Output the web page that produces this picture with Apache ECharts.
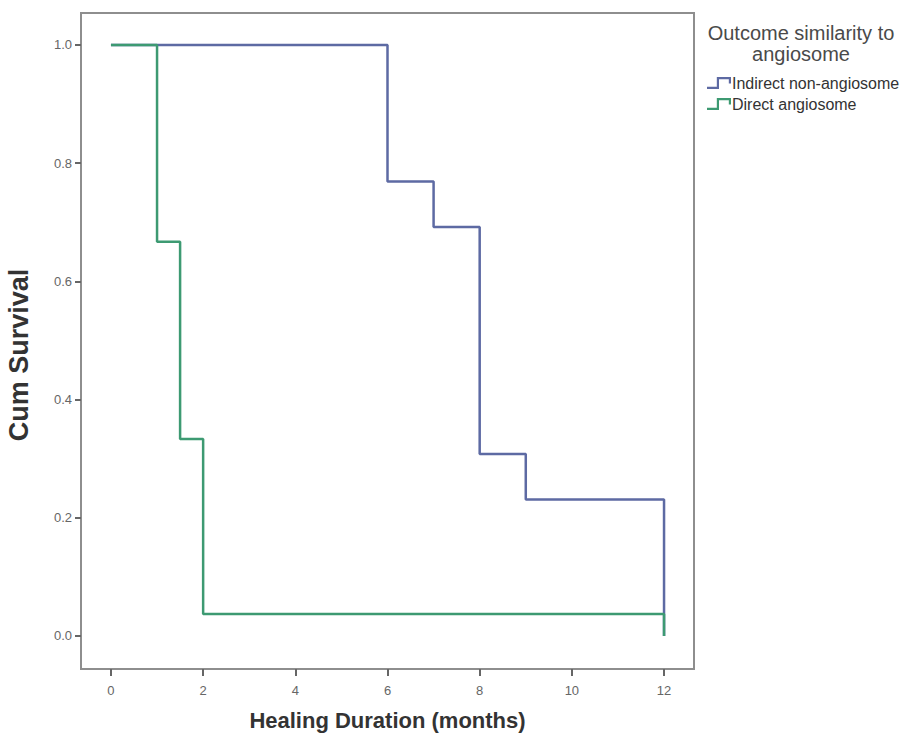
<!DOCTYPE html>
<html>
<head>
<meta charset="utf-8">
<script src="https://cdn.jsdelivr.net/npm/echarts@6/dist/echarts.min.js"></script>
<style>html,body{margin:0;padding:0;background:#fff}#c{width:901px;height:738px}</style>
</head>
<body>
<div id="c"></div>
<script>
// Kaplan-Meier step data: [months, cumulative survival]
var indirectNonAngiosome = [[0, 1.0], [6, 0.769], [7, 0.692], [8, 0.308], [9, 0.231], [12, 0.0]];
var directAngiosome = [[0, 1.0], [1, 0.667], [1.5, 0.333], [2, 0.037], [12, 0.0]];
var xTicks = [0, 2, 4, 6, 8, 10, 12];
var yTicks = [0.0, 0.2, 0.4, 0.6, 0.8, 1.0];
var seriesNames = ['Indirect non-angiosome', 'Direct angiosome'];
var legendTitle = 'Outcome similarity to\nangiosome';

var stepIcon = 'path://M0,9 L9,9 L9,0 L22,0 L22,6 L20,6 L20,2 L11,2 L11,11 L0,11 Z';
var chart = echarts.init(document.getElementById('c'), null, {renderer: 'svg'});
chart.setOption({
  animation: false,
  backgroundColor: '#fff',
  title: {
    text: legendTitle,
    left: 796, top: 17, textAlign: 'center',
    textStyle: {fontFamily: 'Liberation Sans', fontSize: 20, fontWeight: 'normal', color: '#4a4a4a', lineHeight: 21}
  },
  legend: {
    orient: 'vertical', left: 702, top: 70, itemGap: 5,
    itemWidth: 24, itemHeight: 12, symbolKeepAspect: false,
    data: [{name: seriesNames[0], icon: stepIcon}, {name: seriesNames[1], icon: stepIcon}],
    textStyle: {fontFamily: 'Liberation Sans', fontSize: 16, color: '#333', padding: [0, 0, 0, -4]}
  },
  grid: {left: 81, top: 13, right: 207, bottom: 69, show: true, borderColor: '#8e8e8e', borderWidth: 2,
    containLabel: false, outerBoundsMode: 'none'},
  xAxis: {
    type: 'value', min: -0.65, max: 12.65,
    name: 'Healing Duration (months)', nameLocation: 'middle', nameGap: 40,
    nameTextStyle: {fontFamily: 'Liberation Sans', fontSize: 22, fontWeight: 'bold', color: '#333'},
    axisLine: {show: true, onZero: false, lineStyle: {color: '#8e8e8e', width: 2}},
    axisTick: {show: true, length: 7, lineStyle: {color: '#666', width: 2}, customValues: xTicks},
    axisLabel: {customValues: xTicks, fontFamily: 'Liberation Sans', fontSize: 13, color: '#666', margin: 15},
    splitLine: {show: false}
  },
  yAxis: {
    type: 'value', min: -0.056, max: 1.054,
    name: 'Cum Survival', nameLocation: 'middle', nameGap: 49,
    nameTextStyle: {fontFamily: 'Liberation Sans', fontSize: 27, fontWeight: 'bold', color: '#333', padding: [0, 28, 0, 0]},
    axisLine: {show: true, onZero: false, lineStyle: {color: '#8e8e8e', width: 2}},
    axisTick: {show: true, length: 6, lineStyle: {color: '#666', width: 2}, customValues: yTicks},
    axisLabel: {customValues: yTicks, fontFamily: 'Liberation Sans', fontSize: 13, color: '#666', margin: 9,
      formatter: function (v) { return v.toFixed(1); }},
    splitLine: {show: false}
  },
  series: [
    {name: seriesNames[0], type: 'line', step: 'end', data: indirectNonAngiosome, showSymbol: false, symbol: 'none',
      lineStyle: {color: '#5d6aa3', width: 2.5}, itemStyle: {color: '#5d6aa3'}, z: 2},
    {name: seriesNames[1], type: 'line', step: 'end', data: directAngiosome, showSymbol: false, symbol: 'none',
      lineStyle: {color: '#3d9a72', width: 2.5}, itemStyle: {color: '#3d9a72'}, z: 3}
  ]
});
</script>
</body>
</html>
